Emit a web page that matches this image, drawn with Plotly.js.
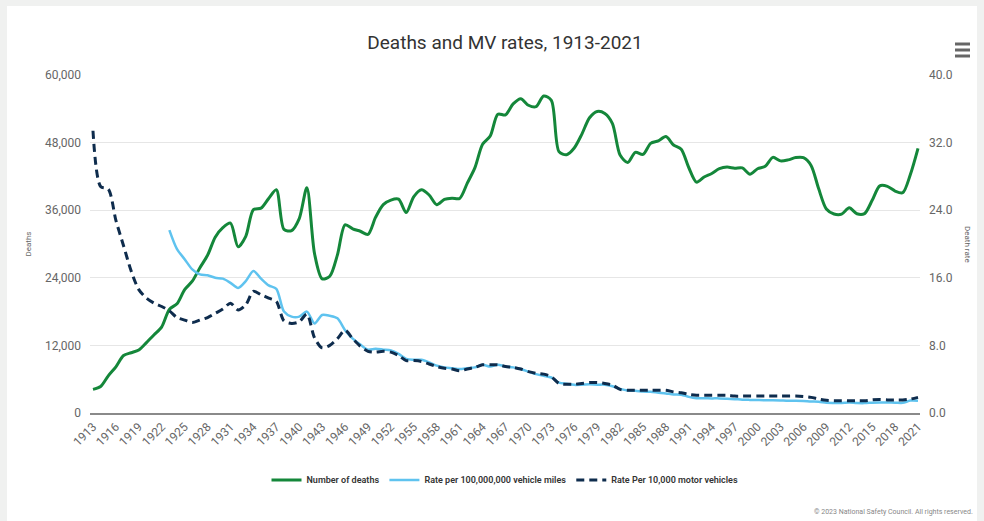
<!DOCTYPE html>
<html>
<head>
<meta charset="utf-8">
<script src="https://cdn.plot.ly/plotly-3.0.1.min.js"></script>
<style>
  html, body { margin: 0; padding: 0; background: #f0f1f0; width: 984px; height: 521px; overflow: hidden; }
  #card { position: absolute; left: 7px; top: 6px; width: 970px; height: 515px; background: #ffffff; }
  #chart { position: absolute; left: 0; top: 0; width: 984px; height: 521px; }
</style>
</head>
<body>
<div id="card"></div>
<div id="chart"></div>
<script>
const years = [1913,1914,1915,1916,1917,1918,1919,1920,1921,1922,1923,1924,1925,1926,1927,1928,1929,1930,1931,1932,1933,1934,1935,1936,1937,1938,1939,1940,1941,1942,1943,1944,1945,1946,1947,1948,1949,1950,1951,1952,1953,1954,1955,1956,1957,1958,1959,1960,1961,1962,1963,1964,1965,1966,1967,1968,1969,1970,1971,1972,1973,1974,1975,1976,1977,1978,1979,1980,1981,1982,1983,1984,1985,1986,1987,1988,1989,1990,1991,1992,1993,1994,1995,1996,1997,1998,1999,2000,2001,2002,2003,2004,2005,2006,2007,2008,2009,2010,2011,2012,2013,2014,2015,2016,2017,2018,2019,2020,2021];

const deaths = [4200,4700,6600,8200,10200,10700,11200,12500,13900,15300,18400,19400,21900,23400,25800,28000,31200,32900,33700,29500,31363,36101,36369,38089,39643,32582,32386,34501,39969,28309,23823,24282,28076,33411,32697,32259,31701,34763,36996,37794,37956,35586,38426,39628,38702,36981,37910,38137,38091,40804,43564,47700,49163,53041,52924,54862,55791,54633,54381,56278,55511,46402,45853,47038,49510,52411,53524,53172,51385,45779,44452,46263,45901,47865,48290,49078,47575,46814,43536,40982,41893,42524,43363,43649,43458,43501,42401,43354,43788,45380,44757,44933,45343,45316,43945,39790,36216,35332,35303,36415,35369,35398,37757,40327,40231,39404,39107,42339,46980];

const mileageRate = [null,null,null,null,null,null,null,null,null,null,
  21.65,19.4,18.2,17.0,16.4,16.3,16.0,15.9,15.4,14.8,15.6,16.8,15.9,15.1,14.7,12.0,11.4,11.4,12.0,10.6,11.6,11.5,11.2,9.8,8.8,8.1,7.5,7.6,7.5,7.4,7.0,6.4,6.3,6.3,6.0,5.6,5.4,5.3,5.2,5.3,5.4,5.7,5.5,5.7,5.5,5.4,5.2,4.9,4.6,4.4,4.2,3.6,3.45,3.33,3.35,3.39,3.35,3.35,3.17,2.86,2.66,2.64,2.53,2.51,2.41,2.32,2.20,2.17,1.91,1.75,1.75,1.73,1.73,1.69,1.64,1.58,1.55,1.53,1.51,1.51,1.48,1.44,1.45,1.42,1.36,1.33,1.21,1.19,1.19,1.23,1.18,1.17,1.22,1.25,1.24,1.22,1.20,1.47,1.46];

const vehicleRate = [33.4,26.8,26.5,22.8,19.8,16.8,14.6,13.6,13.0,12.6,12.1,11.3,11.0,10.7,11.0,11.3,11.8,12.3,13.0,12.2,12.8,14.4,14.0,13.6,13.2,10.9,10.6,10.8,11.7,8.9,7.7,8.0,8.8,9.8,8.8,7.9,7.3,7.2,7.3,7.2,6.8,6.2,6.2,6.1,5.8,5.5,5.3,5.2,5.0,5.2,5.4,5.7,5.7,5.7,5.5,5.4,5.2,4.9,4.7,4.6,4.3,3.5,3.4,3.4,3.5,3.6,3.6,3.5,3.3,2.8,2.7,2.7,2.7,2.7,2.7,2.7,2.5,2.4,2.2,2.1,2.1,2.1,2.1,2.1,2.0,2.0,2.0,2.0,2.0,2.0,2.0,2.0,2.0,1.95,1.85,1.65,1.5,1.45,1.45,1.45,1.45,1.45,1.55,1.6,1.55,1.55,1.55,1.65,1.85];

const xTicks = [1913,1916,1919,1922,1925,1928,1931,1934,1937,1940,1943,1946,1949,1952,1955,1958,1961,1964,1967,1970,1973,1976,1979,1982,1985,1988,1991,1994,1997,2000,2003,2006,2009,2012,2015,2018,2021];
const yLeftTicks = [0,12000,24000,36000,48000,60000];
const yRightTicks = [0,8,16,24,32,40];

const seriesNames = ["Number of deaths","Rate per 100,000,000 vehicle miles","Rate Per 10,000 motor vehicles"];

const traces = [
  {x: years, y: deaths, name: seriesNames[0], type: 'scatter', mode: 'lines', yaxis: 'y',
   line: {color: '#14873a', width: 3, shape: 'spline', smoothing: 0.8}},
  {x: years, y: mileageRate, name: seriesNames[1], type: 'scatter', mode: 'lines', yaxis: 'y2',
   line: {color: '#5fc3ef', width: 2.5, shape: 'spline', smoothing: 0.8}},
  {x: years, y: vehicleRate, name: seriesNames[2], type: 'scatter', mode: 'lines', yaxis: 'y2',
   line: {color: '#0e2c4d', width: 3, shape: 'spline', smoothing: 0.8, dash: '8px,5px'}}
];

const font = 'Roboto, "Open Sans", Arial, sans-serif';

const layout = {
  width: 984, height: 521,
  paper_bgcolor: 'rgba(0,0,0,0)', plot_bgcolor: 'rgba(0,0,0,0)',
  margin: {l: 90, r: 64, t: 75, b: 108, pad: 0},
  font: {family: font, color: '#666'},
  title: {text: 'Deaths and MV rates, 1913-2021', x: 0.5, xanchor: 'center', xref: 'paper',
          y: 1 - 42/521, yanchor: 'middle', yref: 'container',
          font: {family: font, size: 19, color: '#333'}},
  showlegend: true,
  legend: {orientation: 'h', x: 0.5, xanchor: 'center', y: -0.198, yanchor: 'middle',
           font: {family: font, size: 9, color: '#333', weight: 600}, itemwidth: 30,
           bgcolor: 'rgba(0,0,0,0)', traceorder: 'normal'},
  xaxis: {type: 'linear', range: [1912.61, 2021.26], tickmode: 'array', tickvals: xTicks,
          ticktext: xTicks.map(String), tickangle: -45, showgrid: false, zeroline: false,
          showline: true, linecolor: '#8a8a8a', linewidth: 2, ticks: '',
          tickfont: {family: font, size: 12, color: '#666'}, fixedrange: true},
  yaxis: {range: [0, 60000], tickmode: 'array', tickvals: yLeftTicks,
          ticktext: yLeftTicks.map(v => v.toLocaleString('en-US')),
          showgrid: true, gridcolor: '#e6e6e6', gridwidth: 1, zeroline: false, showline: false,
          ticks: '', ticklabelstandoff: 8,
          tickfont: {family: font, size: 12, color: '#666'},
          title: {text: 'Deaths', font: {family: font, size: 8, color: '#666'}, standoff: 12}},
  yaxis2: {range: [0, 40], overlaying: 'y', side: 'right', tickmode: 'array', tickvals: yRightTicks,
           ticktext: yRightTicks.map(v => v.toFixed(1)),
           showgrid: false, zeroline: false, showline: false, ticks: '', ticklabelstandoff: 8,
           tickfont: {family: font, size: 12, color: '#666'}},
  annotations: [
    {text: 'Death rate', xref: 'paper', yref: 'paper', x: (968 - 90) / 830, y: 0.5,
     xanchor: 'center', yanchor: 'middle', textangle: 90, showarrow: false,
     font: {family: font, size: 8, color: '#666'}},
    {text: '© 2023 National Safety Council. All rights reserved.', xref: 'paper', yref: 'paper',
     x: (975 - 90) / 830, y: (413 - 512) / 338, xanchor: 'right', yanchor: 'middle', showarrow: false,
     font: {family: font, size: 7, color: '#888'}}
  ],
  shapes: [
    {type: 'line', xref: 'paper', yref: 'paper', x0: (955-90)/830, x1: (970-90)/830, y0: (413-44)/338, y1: (413-44)/338, line: {color: '#666', width: 3}},
    {type: 'line', xref: 'paper', yref: 'paper', x0: (955-90)/830, x1: (970-90)/830, y0: (413-50)/338, y1: (413-50)/338, line: {color: '#666', width: 3}},
    {type: 'line', xref: 'paper', yref: 'paper', x0: (955-90)/830, x1: (970-90)/830, y0: (413-56)/338, y1: (413-56)/338, line: {color: '#666', width: 3}}
  ]
};

Plotly.newPlot('chart', traces, layout, {displayModeBar: false, staticPlot: true});
</script>
</body>
</html>
